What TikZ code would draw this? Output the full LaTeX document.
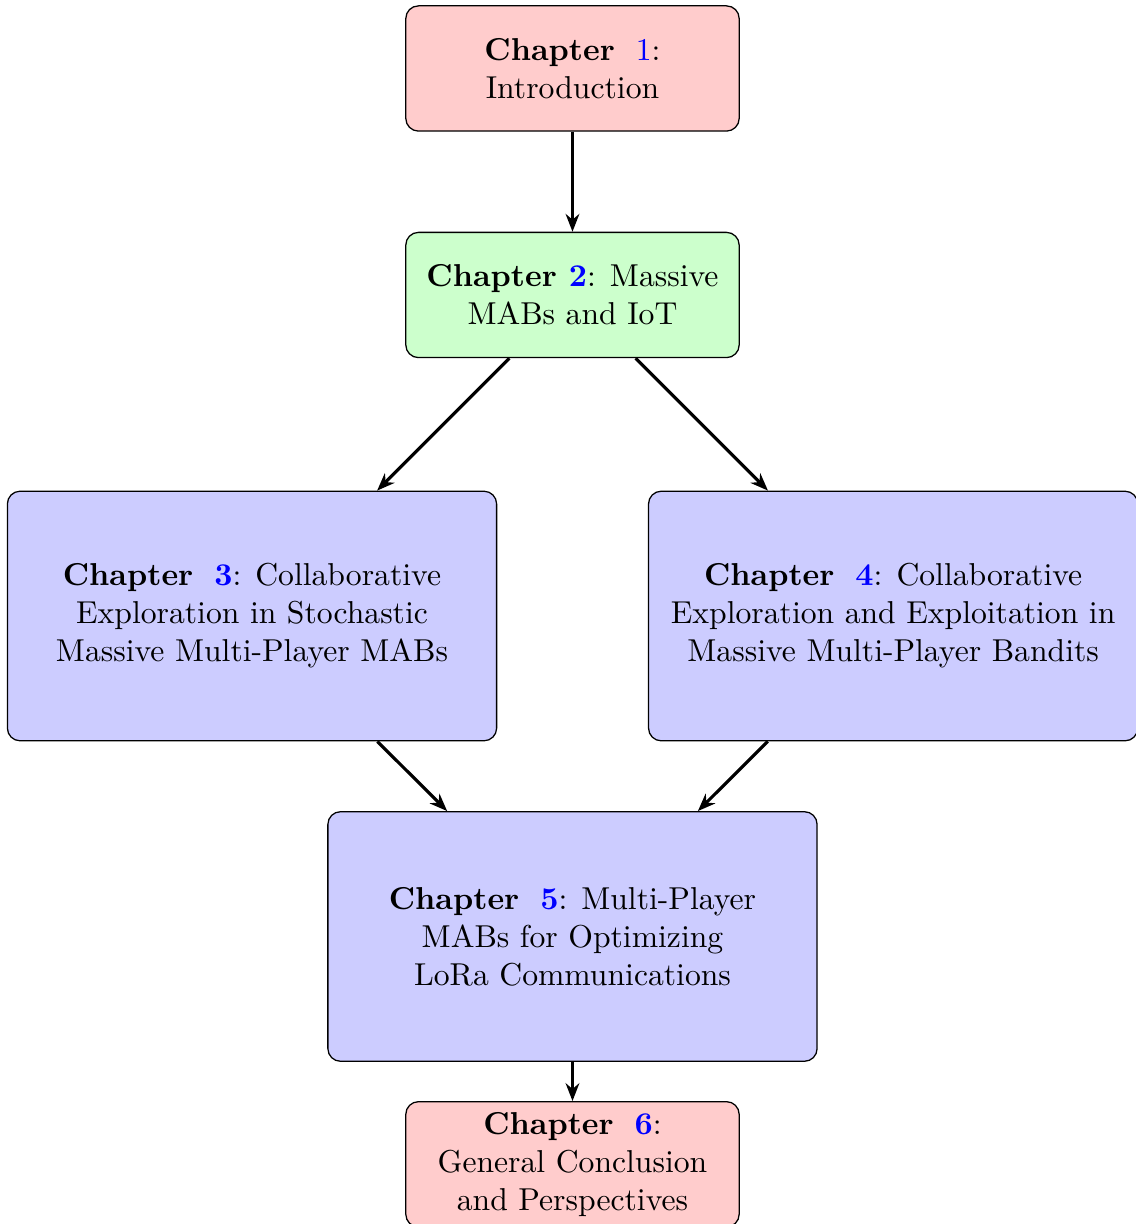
\documentclass[tikz,border=0pt]{standalone}
\usepackage{amsmath}
\usepackage{xcolor}
\usetikzlibrary{arrows, arrows.meta}

\tikzset{
  chapbox/.style={draw, rounded corners=4pt, align=center, inner sep=3.33pt},
  smallbox/.style={chapbox, minimum width=3.7cm, minimum height=1.39cm},
  bigbox/.style={chapbox, fill=blue!20, minimum width=5.43cm, minimum height=2.77cm},
  flow/.style={line width=1pt, -{Stealth[length=5.6pt, width=4.3pt, inset=1.8pt]}}
}

\begin{document}
\begin{tikzpicture}
\useasboundingbox (0,0) rectangle (12.608,-13.585);
\node[smallbox, fill=red!20] (ch1) at (6.354,-0.760) {\textbf{Chapter}~ \textcolor{blue}{1}:\\ Introduction};
\node[smallbox, fill=green!20] (ch2) at (6.354,-3.274) {\textbf{Chapter \textcolor{blue}{2}}: Massive\\ MABs and IoT};
\node[bigbox] (ch3) at (2.797,-6.837) {\textbf{Chapter}~ \textbf{\textcolor{blue}{3}}: Collaborative\\ Exploration in Stochastic\\ Massive Multi-Player MABs};
\node[bigbox] (ch4) at (9.913,-6.837) {\textbf{Chapter}~ \textbf{\textcolor{blue}{4}}: Collaborative\\ Exploration and Exploitation in\\ Massive Multi-Player Bandits};
\node[bigbox] (ch5) at (6.354,-10.394) {\textbf{Chapter}~ \textbf{\textcolor{blue}{5}}: Multi-Player\\ MABs for Optimizing\\ LoRa Communications};
\node[smallbox, fill=red!20, anchor=north] (ch6) at (6.354,-12.22) {\textbf{Chapter}~ \textbf{\textcolor{blue}{6}}:\\ General Conclusion\\ and Perspectives};
\draw[flow] (ch1) -- (ch2);
\draw[flow] (ch2) -- (ch3);
\draw[flow] (ch2) -- (ch4);
\draw[flow] (ch3) -- (ch5);
\draw[flow] (ch4) -- (ch5);
\draw[flow] (ch5) -- (ch6);
\end{tikzpicture}
\end{document}
